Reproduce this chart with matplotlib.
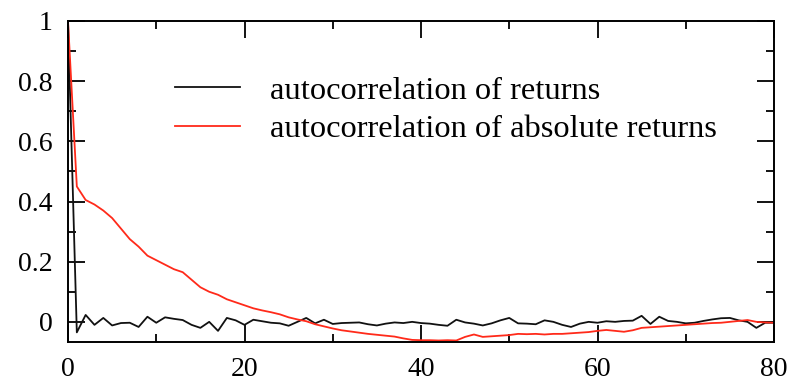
import matplotlib
matplotlib.use("Agg")
import matplotlib.pyplot as plt
from matplotlib.ticker import MultipleLocator

plt.rcParams['font.family'] = ['Liberation Serif', 'DejaVu Serif']

lags = list(range(81))

acf_returns = [
    1.0, -0.035, 0.023, -0.01, 0.013, -0.012, -0.004, -0.003, -0.017, 0.017,
    -0.003, 0.015, 0.01, 0.006, -0.01, -0.02, 0.0, -0.03, 0.013, 0.005,
    -0.01, 0.007, 0.002, -0.003, -0.005, -0.013, 0.0, 0.013, -0.005, 0.007,
    -0.007, -0.004, -0.003, -0.002, -0.008, -0.012, -0.006, -0.002, -0.004, 0.0,
    -0.004, -0.006, -0.01, -0.013, 0.007, -0.002, -0.006, -0.012, -0.005, 0.005,
    0.013, -0.005, -0.006, -0.008, 0.005, 0.0, -0.01, -0.017, -0.006, 0.0,
    -0.003, 0.002, 0.0, 0.003, 0.004, 0.02, -0.007, 0.017, 0.003, 0.0,
    -0.005, -0.003, 0.003, 0.008, 0.012, 0.013, 0.005, 0.0, -0.02, -0.003,
    -0.003,
]

acf_abs_returns = [
    1.0, 0.45, 0.405, 0.39, 0.37, 0.345, 0.31, 0.275, 0.25, 0.22,
    0.205, 0.19, 0.175, 0.165, 0.14, 0.115, 0.10, 0.09, 0.075, 0.065,
    0.055, 0.045, 0.038, 0.032, 0.025, 0.015, 0.008, 0.002, -0.008, -0.015,
    -0.022, -0.028, -0.032, -0.036, -0.04, -0.043, -0.046, -0.049, -0.055, -0.06,
    -0.061, -0.061, -0.062, -0.061, -0.062, -0.05, -0.042, -0.05, -0.048, -0.046,
    -0.044, -0.04, -0.041, -0.04, -0.042, -0.04, -0.04, -0.038, -0.036, -0.034,
    -0.03, -0.027, -0.03, -0.033, -0.028, -0.02, -0.018, -0.016, -0.014, -0.012,
    -0.01, -0.008, -0.006, -0.004, -0.003, 0.0, 0.003, 0.006, 0.0, -0.002,
    -0.003,
]

series_labels = ["autocorrelation of returns", "autocorrelation of absolute returns"]
x_ticks = [0, 20, 40, 60, 80]
y_ticks = [0, 0.2, 0.4, 0.6, 0.8, 1]

fig = plt.figure(figsize=(7.96, 3.82), dpi=100)
ax = fig.add_axes([68 / 796, 1 - 342 / 382, (774 - 68) / 796, (342 - 21) / 382])

ax.plot(lags, acf_returns, color="#111111", lw=1.3, label=series_labels[0])
ax.plot(lags, acf_abs_returns, color="#ff2a1a", lw=1.3, label=series_labels[1])

ax.set_xlim(0, 80)
ax.set_ylim(-0.067, 1.0)
ax.set_xticks(x_ticks)
ax.set_yticks(y_ticks)
ax.set_xticklabels([str(t) for t in x_ticks])
ax.set_yticklabels(["0", "0.2", "0.4", "0.6", "0.8", "1"])
ax.xaxis.set_minor_locator(MultipleLocator(10))
ax.yaxis.set_minor_locator(MultipleLocator(0.1))
ax.tick_params(which="both", direction="in", top=True, right=True,
               labelsize=20, width=1.3, color="black")
ax.tick_params(which="major", length=12, pad=11)
ax.tick_params(which="minor", length=5.5)
for s in ax.spines.values():
    s.set_linewidth(1.4)

leg = ax.legend(loc="upper left", bbox_to_anchor=(175 / 796, 1 - 76 / 382),
                bbox_transform=fig.transFigure, frameon=False, fontsize=23.4,
                handlelength=2.0, handletextpad=0.93, labelspacing=0.26,
                borderpad=0, borderaxespad=0)

fig.savefig("out.png", dpi=100)
